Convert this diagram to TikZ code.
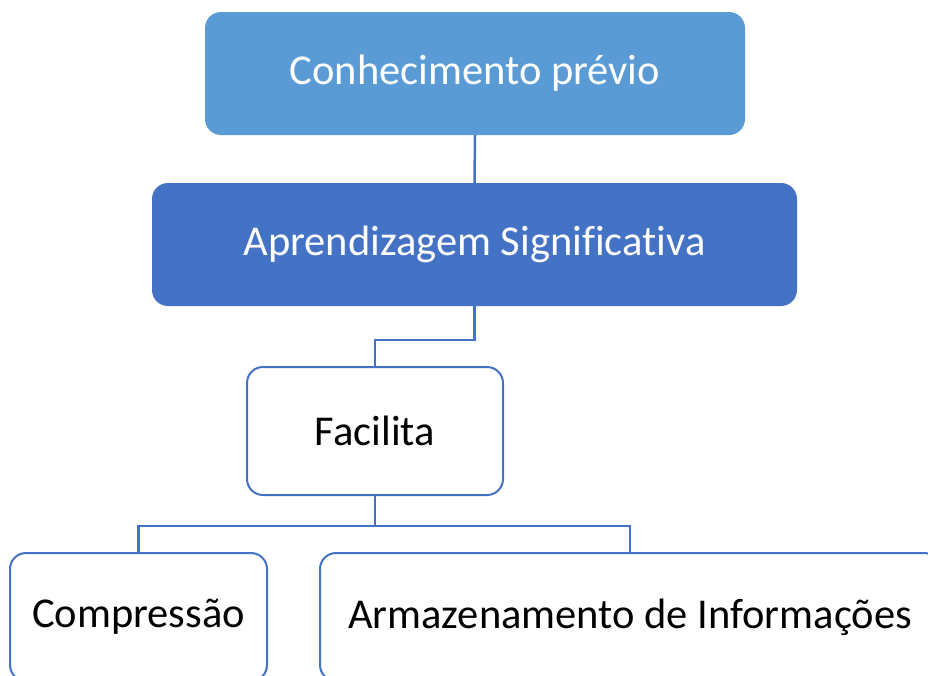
\documentclass[tikz,border=0pt]{standalone}
\usepackage{fontspec}
\setmainfont[Ligatures=NoCommon]{Carlito}
\definecolor{lblue}{HTML}{5B9BD5}
\definecolor{dblue}{HTML}{4472C4}
\begin{document}
\begin{tikzpicture}[x=1pt,y=-1pt,
  box/.style={rectangle, rounded corners=16pt, inner sep=0pt, font=\fontsize{42.5}{50}\selectfont},
  filledbox/.style={box, fill=#1, text=white, draw=none},
  outbox/.style={box, fill=white, draw=dblue, line width=2pt, text=black},
  conn/.style={draw=dblue, line width=2.5pt}]
\useasboundingbox (0,0) rectangle (928,675);
\clip (0,0) rectangle (928,675);
\node[filledbox=lblue, minimum width=540pt, minimum height=123pt] (con) at (475,73.5) {Conhecimento prévio};
\node[filledbox=dblue, minimum width=645pt, minimum height=123pt] (apr) at (474.5,244.5) {Aprendizagem Significativa};
\node[outbox, minimum width=256pt, minimum height=128pt] (fac) at (375,431) {Facilita};
\node[outbox, minimum width=257pt, minimum height=128pt] (comp) at (138.5,617) {Compressão};
\node[outbox, minimum width=620pt, minimum height=128pt] (arm) at (630,617) {Armazenamento de Informações};
\draw[conn] (con.south) -- (apr.north);
\draw[conn] (apr.south) -- ++(0,34) -| (fac.north);
\draw[conn] (fac.south) -- ++(0,30) coordinate (j);
\draw[conn] (j) -| (comp.north);
\draw[conn] (j) -| (arm.north);
\end{tikzpicture}
\end{document}
